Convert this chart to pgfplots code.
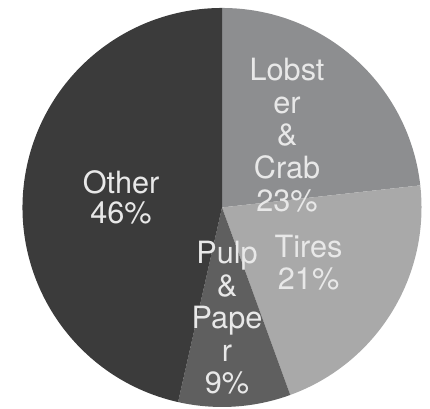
\documentclass[border=0pt]{standalone}
\usepackage{pgfplots}
\pgfplotsset{compat=1.18}
\usepackage{pgfplotstable}
\usepackage{fontspec}
\setmainfont{TeX Gyre Heros}
\definecolor{cLob}{HTML}{8D8E90}
\definecolor{cTir}{HTML}{A9A9A9}
\definecolor{cPul}{HTML}{5F5F5F}
\definecolor{cOth}{HTML}{3B3B3B}
\definecolor{cTxt}{HTML}{E8E8E8}
\pgfplotstableread{
label value
Lobster 23
Tires 21
Pulp 9
Other 46
}\piedata
\def\R{149.6pt}
\begin{document}%
\begin{tikzpicture}
\pgfplotstablegetelem{0}{value}\of\piedata \let\vA\pgfplotsretval
\pgfplotstablegetelem{1}{value}\of\piedata \let\vB\pgfplotsretval
\pgfplotstablegetelem{2}{value}\of\piedata \let\vC\pgfplotsretval
\pgfplotstablegetelem{3}{value}\of\piedata \let\vD\pgfplotsretval
\pgfmathsetmacro\tot{\vA+\vB+\vC+\vD}
\pgfmathsetmacro\unit{360/\tot}
\pgfmathsetmacro\aA{90}
\pgfmathsetmacro\aB{\aA-\unit*\vA}
\pgfmathsetmacro\aC{\aB-\unit*\vB}
\pgfmathsetmacro\aD{\aC-\unit*\vC}
\pgfmathsetmacro\aE{\aD-\unit*\vD}
\begin{axis}[axis line style={draw=none}, ticks=none, x=149.6pt, y=149.6pt,
  xmin=-1.1128, xmax=1.0426, ymin=-1.010, ymax=1.040, clip=true]
\fill[cLob] (axis cs:0,0) -- (axis cs:{cos(\aA)},{sin(\aA)}) arc[start angle=\aA, end angle=\aB, radius=\R] -- cycle;
\fill[cTir] (axis cs:0,0) -- (axis cs:{cos(\aB)},{sin(\aB)}) arc[start angle=\aB, end angle=\aC, radius=\R] -- cycle;
\fill[cPul] (axis cs:0,0) -- (axis cs:{cos(\aC)},{sin(\aC)}) arc[start angle=\aC, end angle=\aD, radius=\R] -- cycle;
\fill[cOth] (axis cs:0,0) -- (axis cs:{cos(\aD)},{sin(\aD)}) arc[start angle=\aD, end angle=\aE, radius=\R] -- cycle;
\tikzset{lbl/.style={align=center, inner sep=0pt, text=cTxt, font=\fontsize{23}{24.4}\selectfont}}
\node[lbl] at (axis cs:0.326,0.363) {Lobst\\er\\\&\\Crab\\23\%};
\node[lbl, font=\fontsize{23}{22.5}\selectfont] at (axis cs:-0.506,0.050) {Other\\46\%};
\node[lbl] at (axis cs:0.434,-0.276) {Tires\\21\%};
\node[lbl] at (axis cs:0.025,-0.554) {Pulp\\\&\\Pape\\r\\9\%};
\end{axis}
\end{tikzpicture}%
\end{document}
